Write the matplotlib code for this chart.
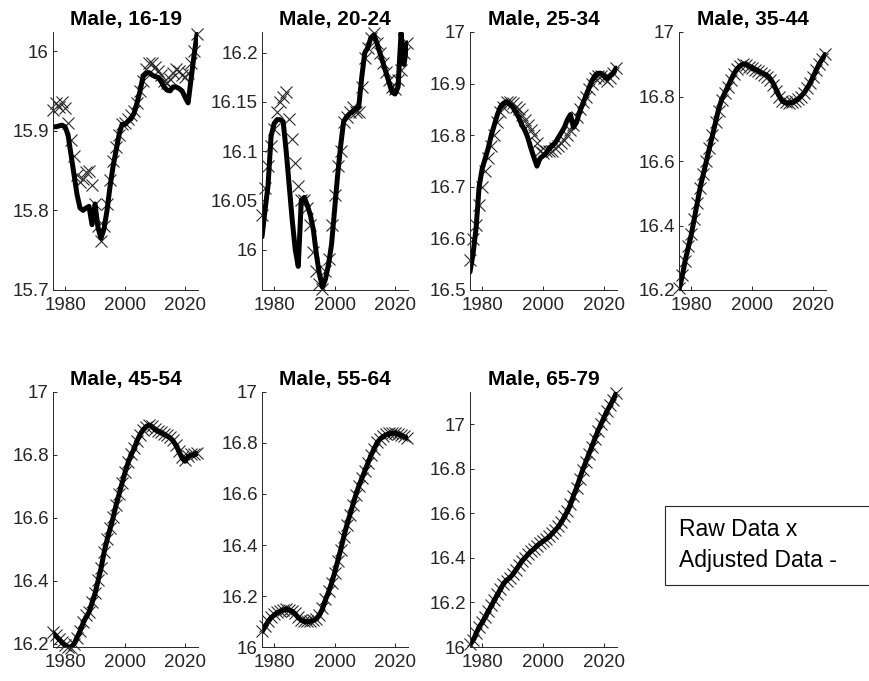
import matplotlib
matplotlib.use("Agg")
import matplotlib.pyplot as plt
from matplotlib.patches import Rectangle
from matplotlib.ticker import FormatStrFormatter

plt.rcParams['font.family'] = ['Liberation Sans', 'DejaVu Sans']

# ---- data ----
years = list(range(1976, 2025))

titles = ['Male, 16-19', 'Male, 20-24', 'Male, 25-34', 'Male, 35-44',
          'Male, 45-54', 'Male, 55-64', 'Male, 65-79']

raw_16_19 = [15.926, 15.935, 15.930, 15.936, 15.928, 15.910, 15.888, 15.868, 15.845, 15.835,
             15.840, 15.848, 15.850, 15.832, 15.808, 15.780, 15.762, 15.780, 15.808, 15.838,
             15.862, 15.880, 15.895, 15.908, 15.910, 15.915, 15.920, 15.925, 15.935, 15.950,
             15.962, 15.978, 15.985, 15.985, 15.980, 15.975, 15.970, 15.962, 15.960, 15.965,
             15.972, 15.978, 15.975, 15.970, 15.968, 15.972, 15.985, 16.000, 16.022]
adj_16_19 = [15.905, 15.905, 15.906, 15.907, 15.905, 15.895, 15.870, 15.845, 15.820, 15.803,
             15.800, 15.803, 15.805, 15.782, 15.808, 15.778, 15.765, 15.777, 15.800, 15.830,
             15.855, 15.875, 15.895, 15.908, 15.908, 15.912, 15.915, 15.922, 15.935, 15.950,
             15.968, 15.972, 15.973, 15.970, 15.968, 15.967, 15.962, 15.955, 15.951, 15.950,
             15.955, 15.955, 15.953, 15.950, 15.942, 15.935, 15.965, 15.995, 16.022]

raw_20_24 = [16.035, 16.063, 16.085, 16.105, 16.122, 16.140, 16.150, 16.155, 16.160, 16.133,
             16.112, 16.088, 16.065, 16.050, 16.050, 16.042, 16.025, 15.998, 15.978, 15.965,
             15.960, 15.978, 15.990, 16.025, 16.055, 16.085, 16.100, 16.130, 16.135, 16.140,
             16.145, 16.140, 16.140, 16.165, 16.195, 16.205, 16.215, 16.220, 16.210, 16.200,
             16.190, 16.180, 16.172, 16.165, 16.163, 16.172, 16.182, 16.200, 16.210]
adj_20_24 = [16.013, 16.040, 16.065, 16.115, 16.128, 16.132, 16.132, 16.130, 16.100, 16.065,
             16.030, 16.000, 15.983, 16.050, 16.053, 16.045, 16.035, 16.020, 15.995, 15.975,
             15.962, 15.970, 15.985, 16.005, 16.040, 16.075, 16.105, 16.130, 16.135, 16.138,
             16.140, 16.143, 16.145, 16.175, 16.200, 16.205, 16.215, 16.218, 16.210, 16.200,
             16.190, 16.180, 16.170, 16.160, 16.158, 16.165, 16.220, 16.188, 16.210]

raw_25_34 = [16.558, 16.598, 16.626, 16.665, 16.700, 16.730, 16.755, 16.780, 16.800, 16.825,
             16.845, 16.855, 16.865, 16.865, 16.862, 16.855, 16.850, 16.840, 16.830, 16.820,
             16.810, 16.800, 16.785, 16.770, 16.765, 16.770, 16.770, 16.770, 16.775, 16.780,
             16.785, 16.790, 16.800, 16.810, 16.820, 16.835, 16.850, 16.865, 16.875, 16.890,
             16.900, 16.910, 16.915, 16.915, 16.910, 16.905, 16.910, 16.920, 16.930]
adj_25_34 = [16.535, 16.570, 16.620, 16.700, 16.735, 16.755, 16.775, 16.800, 16.820, 16.840,
             16.855, 16.862, 16.865, 16.860, 16.855, 16.845, 16.835, 16.820, 16.810, 16.795,
             16.775, 16.757, 16.740, 16.755, 16.760, 16.765, 16.775, 16.780, 16.785, 16.795,
             16.805, 16.815, 16.830, 16.840, 16.815, 16.825, 16.845, 16.860, 16.875, 16.890,
             16.905, 16.915, 16.920, 16.920, 16.915, 16.910, 16.915, 16.920, 16.930]

raw_35_44 = [16.205, 16.245, 16.290, 16.335, 16.375, 16.420, 16.470, 16.515, 16.560, 16.600,
             16.640, 16.680, 16.720, 16.755, 16.790, 16.810, 16.830, 16.850, 16.870, 16.885,
             16.895, 16.900, 16.898, 16.893, 16.888, 16.883, 16.878, 16.873, 16.868, 16.862,
             16.852, 16.837, 16.818, 16.798, 16.785, 16.782, 16.780, 16.783, 16.787, 16.792,
             16.800, 16.812, 16.826, 16.842, 16.862, 16.882, 16.900, 16.917, 16.932]
adj_35_44 = [16.200, 16.240, 16.290, 16.330, 16.370, 16.420, 16.470, 16.520, 16.560, 16.600,
             16.640, 16.680, 16.720, 16.760, 16.790, 16.810, 16.830, 16.850, 16.870, 16.885,
             16.895, 16.900, 16.900, 16.895, 16.890, 16.885, 16.880, 16.875, 16.870, 16.865,
             16.855, 16.840, 16.820, 16.800, 16.785, 16.780, 16.780, 16.782, 16.785, 16.790,
             16.800, 16.810, 16.825, 16.840, 16.860, 16.880, 16.900, 16.915, 16.930]

raw_45_54 = [16.238, 16.228, 16.216, 16.205, 16.196, 16.190, 16.188, 16.198, 16.218, 16.240,
             16.268, 16.292, 16.302, 16.332, 16.362, 16.402, 16.442, 16.492, 16.532, 16.567,
             16.602, 16.642, 16.677, 16.712, 16.747, 16.777, 16.802, 16.822, 16.845, 16.865,
             16.880, 16.890, 16.896, 16.892, 16.882, 16.877, 16.872, 16.867, 16.862, 16.857,
             16.847, 16.832, 16.812, 16.792, 16.784, 16.797, 16.802, 16.802, 16.806]
adj_45_54 = [16.235, 16.225, 16.215, 16.205, 16.195, 16.190, 16.190, 16.200, 16.220, 16.240,
             16.265, 16.285, 16.300, 16.330, 16.360, 16.400, 16.440, 16.490, 16.530, 16.565,
             16.600, 16.640, 16.675, 16.710, 16.745, 16.775, 16.800, 16.820, 16.845, 16.865,
             16.880, 16.890, 16.895, 16.890, 16.880, 16.875, 16.870, 16.865, 16.860, 16.855,
             16.845, 16.830, 16.810, 16.790, 16.780, 16.795, 16.800, 16.800, 16.805]

raw_55_64 = [16.062, 16.082, 16.102, 16.117, 16.128, 16.137, 16.143, 16.147, 16.150, 16.147,
             16.142, 16.132, 16.117, 16.107, 16.101, 16.100, 16.100, 16.104, 16.110, 16.126,
             16.152, 16.188, 16.218, 16.252, 16.292, 16.337, 16.382, 16.432, 16.477, 16.517,
             16.557, 16.597, 16.632, 16.662, 16.692, 16.722, 16.752, 16.777, 16.802, 16.817,
             16.827, 16.834, 16.838, 16.841, 16.840, 16.836, 16.832, 16.826, 16.820]
adj_55_64 = [16.060, 16.080, 16.100, 16.115, 16.125, 16.135, 16.140, 16.145, 16.148, 16.145,
             16.140, 16.130, 16.115, 16.105, 16.100, 16.100, 16.100, 16.105, 16.110, 16.125,
             16.150, 16.185, 16.215, 16.250, 16.290, 16.335, 16.380, 16.430, 16.475, 16.515,
             16.555, 16.595, 16.630, 16.660, 16.690, 16.720, 16.750, 16.775, 16.800, 16.815,
             16.825, 16.832, 16.835, 16.838, 16.838, 16.835, 16.830, 16.825, 16.820]

raw_65_79 = [16.012, 16.032, 16.062, 16.090, 16.112, 16.137, 16.162, 16.187, 16.212, 16.237,
             16.262, 16.284, 16.298, 16.312, 16.327, 16.347, 16.367, 16.386, 16.401, 16.416,
             16.431, 16.442, 16.456, 16.466, 16.476, 16.486, 16.497, 16.511, 16.526, 16.542,
             16.562, 16.587, 16.612, 16.642, 16.679, 16.716, 16.756, 16.796, 16.831, 16.866,
             16.901, 16.936, 16.971, 17.001, 17.031, 17.061, 17.086, 17.111, 17.140]
adj_65_79 = [16.010, 16.030, 16.060, 16.090, 16.110, 16.135, 16.160, 16.185, 16.210, 16.235,
             16.260, 16.285, 16.300, 16.310, 16.325, 16.345, 16.365, 16.385, 16.400, 16.415,
             16.430, 16.440, 16.455, 16.465, 16.475, 16.485, 16.495, 16.510, 16.525, 16.540,
             16.560, 16.585, 16.610, 16.640, 16.680, 16.715, 16.755, 16.795, 16.830, 16.865,
             16.900, 16.935, 16.970, 17.000, 17.030, 17.060, 17.085, 17.110, 17.140]

raw_series = [raw_16_19, raw_20_24, raw_25_34, raw_35_44, raw_45_54, raw_55_64, raw_65_79]
adj_series = [adj_16_19, adj_20_24, adj_25_34, adj_35_44, adj_45_54, adj_55_64, adj_65_79]

y_limits = [(15.7, 16.024), (15.959, 16.221), (16.5, 17.0), (16.2, 17.0),
            (16.19, 17.0), (16.0, 17.0), (16.0, 17.146)]
y_ticks = [[15.7, 15.8, 15.9, 16.0],
           [16.0, 16.05, 16.1, 16.15, 16.2],
           [16.5, 16.6, 16.7, 16.8, 16.9, 17.0],
           [16.2, 16.4, 16.6, 16.8, 17.0],
           [16.2, 16.4, 16.6, 16.8, 17.0],
           [16.0, 16.2, 16.4, 16.6, 16.8, 17.0],
           [16.0, 16.2, 16.4, 16.6, 16.8, 17.0]]
x_ticks = [1980, 2000, 2020]

# ---- layout (pixel boxes: left, top, right, bottom) ----
W, H = 869, 681
boxes = [(53, 32, 198, 290), (262, 32, 408, 290), (470, 32, 617, 290), (679, 32, 826, 290),
         (53, 392, 198, 647), (262, 392, 408, 647), (470, 392, 617, 647)]

axis_grey = '#262626'

fig = plt.figure(figsize=(W / 100, H / 100), dpi=100)

for i, (l, t, r, b) in enumerate(boxes):
    ax = fig.add_axes([l / W, 1 - b / H, (r - l) / W, (b - t) / H])
    ax.plot(years, raw_series[i], linestyle='none', marker='x', markersize=8,
            markeredgewidth=0.8, color='#2a2a2a', clip_on=False)
    ax.plot(years, adj_series[i], '-', color='black', linewidth=3.6,
            solid_capstyle='round', solid_joinstyle='round')
    ax.set_xlim(1976, 2024.3)
    ax.set_ylim(*y_limits[i])
    ax.set_xticks(x_ticks)
    ax.set_yticks(y_ticks[i])
    ax.yaxis.set_major_formatter(FormatStrFormatter('%g'))
    for side in ('top', 'right'):
        ax.spines[side].set_visible(False)
    for side in ('left', 'bottom'):
        ax.spines[side].set_color(axis_grey)
        ax.spines[side].set_linewidth(0.7)
    ax.tick_params(direction='in', length=3, width=0.7, colors=axis_grey,
                   labelsize=13.5)
    ax.tick_params(axis='x', pad=5)
    ax.tick_params(axis='y', pad=3)
    ax.set_title(titles[i], fontsize=15, fontweight='bold', pad=5)

# text box standing in for the legend
fig.patches.append(Rectangle((665 / W, 1 - 585 / H), 0.4, 79 / H, transform=fig.transFigure,
                             facecolor='white', edgecolor=axis_grey, linewidth=0.8))
fig.text(679 / W, 1 - 530 / H, 'Raw Data x', fontsize=16.5, va='center', ha='left')
fig.text(679 / W, 1 - 561 / H, 'Adjusted Data -', fontsize=16.5, va='center', ha='left')

fig.savefig('out.png', dpi=100)
